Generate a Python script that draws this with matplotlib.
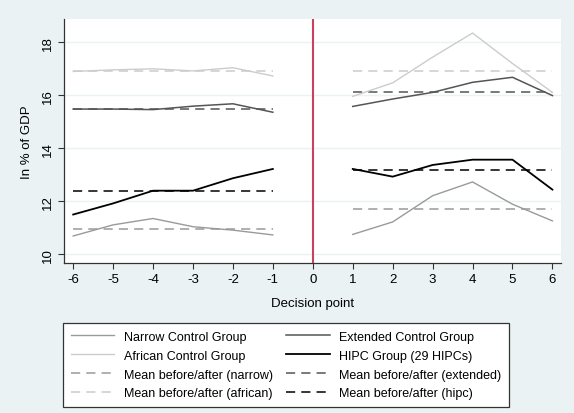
import numpy as np
import matplotlib.pyplot as plt

plt.rcParams['font.family'] = ['Liberation Sans', 'DejaVu Sans']
plt.rcParams['axes.unicode_minus'] = False

# decision-point windows
before = [-6, -5, -4, -3, -2, -1]
after = [1, 2, 3, 4, 5, 6]

# revenue in % of GDP, before / after decision point
narrow_b = [10.69, 11.11, 11.35, 11.04, 10.91, 10.73]
narrow_a = [10.75, 11.22, 12.21, 12.73, 11.89, 11.26]
extended_b = [15.48, 15.48, 15.46, 15.59, 15.68, 15.36]
extended_a = [15.58, 15.86, 16.11, 16.49, 16.68, 15.99]
african_b = [16.90, 16.96, 17.00, 16.92, 17.04, 16.73]
african_a = [15.96, 16.47, 17.44, 18.35, 17.20, 16.11]
hipc_b = [11.50, 11.92, 12.40, 12.40, 12.87, 13.22]
hipc_a = [13.22, 12.93, 13.37, 13.57, 13.57, 12.44]

# group means before / after
mean_narrow = [10.97, 11.69]
mean_extended = [15.48, 16.11]
mean_african = [16.92, 16.92]
mean_hipc = [12.38, 13.18]

xticks = list(range(-6, 7))
yticks = [10, 12, 14, 16, 18]

bg = '#eaf2f3'
c_narrow = '#9a9a9a'
c_ext = '#555555'
c_afr = '#cccccc'
c_hipc = '#000000'

fig = plt.figure(figsize=(5.74, 4.14), dpi=100, facecolor=bg)
ax = fig.add_axes([0.1115, 0.3623, 0.8655, 0.5894])
ax.set_facecolor('white')

dash = (6, 4)
series = [
    (narrow_b, narrow_a, mean_narrow, c_narrow, 1.0),
    (extended_b, extended_a, mean_extended, c_ext, 1.1),
    (african_b, african_a, mean_african, c_afr, 1.0),
    (hipc_b, hipc_a, mean_hipc, c_hipc, 1.3),
]
handles = {}
for yb, ya, m, col, lw in series:
    ln, = ax.plot(before, yb, color=col, lw=lw, zorder=3)
    ax.plot(after, ya, color=col, lw=lw, zorder=3)
    d, = ax.plot(before, [m[0]] * len(before), color=col, lw=1.1,
                 dashes=dash, zorder=2)
    ax.plot(after, [m[1]] * len(after), color=col, lw=1.1,
            dashes=dash, zorder=2)
    handles[col] = (ln, d)

ax.axvline(0, color='#c8415e', lw=1.5, zorder=4)

ax.set_xlim(-6.23, 6.21)
ax.set_ylim(9.67, 18.88)
ax.set_xticks(xticks)
ax.set_yticks(yticks)
ax.set_yticklabels([str(v) for v in yticks], rotation=90, va='center')
ax.grid(axis='y', color=bg, lw=1)
ax.set_axisbelow(True)
for s in ['top', 'right']:
    ax.spines[s].set_visible(False)
for s in ['left', 'bottom']:
    ax.spines[s].set_color('#333333')
    ax.spines[s].set_linewidth(0.9)
ax.tick_params(labelsize=9.5, length=4, color='#333333')
ax.set_xlabel('Decision point', fontsize=9.5, labelpad=8)
ax.set_ylabel('In % of GDP', fontsize=9.5, labelpad=6)

order = [
    (handles[c_narrow][0], 'Narrow Control Group'),
    (handles[c_afr][0], 'African Control Group'),
    (handles[c_narrow][1], 'Mean before/after (narrow)'),
    (handles[c_afr][1], 'Mean before/after (african)'),
    (handles[c_ext][0], 'Extended Control Group'),
    (handles[c_hipc][0], 'HIPC Group (29 HIPCs)'),
    (handles[c_ext][1], 'Mean before/after (extended)'),
    (handles[c_hipc][1], 'Mean before/after (hipc)'),
]
leg = fig.legend([h for h, _ in order], [t for _, t in order],
                 loc='lower left', bbox_to_anchor=(0.1098, 0.0145),
                 ncol=2, fontsize=9, handlelength=3.5,
                 handletextpad=0.75, columnspacing=1.05, labelspacing=0.55,
                 borderpad=0.6, borderaxespad=0,
                 fancybox=False, framealpha=1, edgecolor='#333333')
leg.get_frame().set_linewidth(0.9)

fig.savefig('out.png', dpi=100, facecolor=bg)
